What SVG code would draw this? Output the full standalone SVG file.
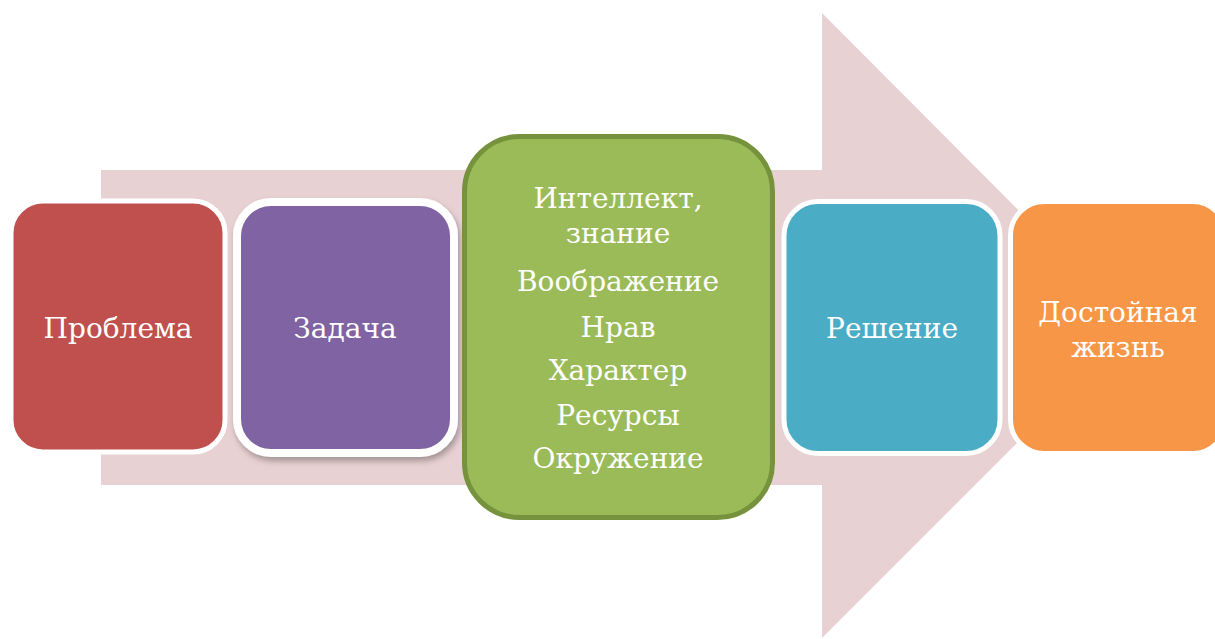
<svg xmlns="http://www.w3.org/2000/svg" width="1215" height="639" viewBox="0 0 1215 639">
<defs>
<style>
.t{font-family:'DejaVu Serif',serif;font-size:28px;fill:#ffffff;text-anchor:middle}
.wb{stroke:#ffffff;stroke-width:5}
</style>
<filter id="sh" x="-10%" y="-10%" width="130%" height="130%">
<feDropShadow dx="2" dy="4" stdDeviation="3" flood-color="#000" flood-opacity="0.3"/>
</filter>
</defs>
<rect width="1215" height="639" fill="#ffffff"/>
<g id="connectors">
<polygon points="101,170 822,170 822,13 1134,326 822,638 822,485 101,485" fill="#e8d1d2"/>
</g>
<g id="n1">
<rect x="11" y="201" width="214" height="251" rx="32" fill="#c0504d" class="wb"/>
<text class="t" x="118" y="338">Проблема</text>
</g>
<g id="n2">
<rect x="237" y="202" width="217" height="251" rx="34" fill="#8064a2" stroke="#ffffff" stroke-width="8" filter="url(#sh)"/>
<text class="t" x="345" y="338">Задача</text>
</g>
<g id="n3">
<rect x="464.5" y="136.5" width="308" height="381" rx="55" fill="#9bbb59" stroke="#76923c" stroke-width="5"/>
<text class="t" x="618" y="208">Интеллект,</text>
<text class="t" x="618" y="243">знание</text>
<text class="t" x="618" y="291">Воображение</text>
<text class="t" x="618" y="337">Нрав</text>
<text class="t" x="618" y="380">Характер</text>
<text class="t" x="618" y="425">Ресурсы</text>
<text class="t" x="618" y="468">Окружение</text>
</g>
<g id="n4">
<rect x="784" y="201.5" width="216" height="252" rx="34" fill="#4bacc6" class="wb"/>
<text class="t" x="892" y="338">Решение</text>
</g>
<g id="n5">
<rect x="1010.5" y="201.5" width="216" height="252" rx="34" fill="#f79646" class="wb"/>
<text class="t" x="1118" y="322">Достойная</text>
<text class="t" x="1118" y="357">жизнь</text>
</g>
</svg>
